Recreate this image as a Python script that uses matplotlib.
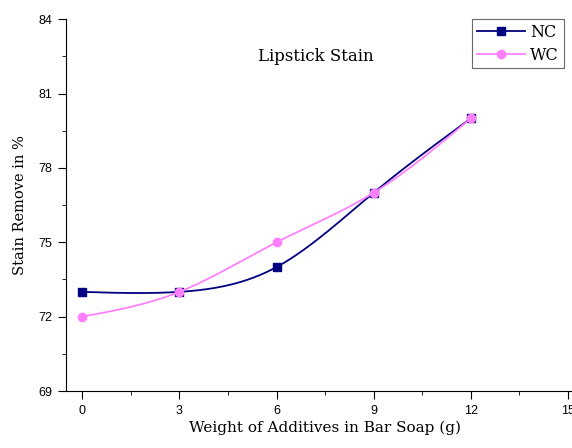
import numpy as np
import matplotlib
matplotlib.use("Agg")
from matplotlib import pyplot as plt
from matplotlib.ticker import MultipleLocator

# stain removal (%) vs additive weight (g)
weight = [0, 3, 6, 9, 12]
nc = [73, 73, 74, 77, 80]
wc = [72, 73, 75, 77, 80]


def spline(x, y, n=200):
    # natural cubic spline through the points, for a smooth line
    x = np.asarray(x, float)
    y = np.asarray(y, float)
    h = np.diff(x)
    m = len(x)
    A = np.zeros((m, m))
    b = np.zeros(m)
    A[0, 0] = A[-1, -1] = 1
    for i in range(1, m - 1):
        A[i, i - 1] = h[i - 1]
        A[i, i] = 2 * (h[i - 1] + h[i])
        A[i, i + 1] = h[i]
        b[i] = 6 * ((y[i + 1] - y[i]) / h[i] - (y[i] - y[i - 1]) / h[i - 1])
    M = np.linalg.solve(A, b)
    xx = np.linspace(x[0], x[-1], n)
    idx = np.clip(np.searchsorted(x, xx) - 1, 0, m - 2)
    x0, x1 = x[idx], x[idx + 1]
    hh = x1 - x0
    yy = (M[idx] * (x1 - xx) ** 3 / (6 * hh) + M[idx + 1] * (xx - x0) ** 3 / (6 * hh)
          + (y[idx] / hh - M[idx] * hh / 6) * (x1 - xx)
          + (y[idx + 1] / hh - M[idx + 1] * hh / 6) * (xx - x0))
    return xx, yy


navy = "#000080"
pink = "#FF80FF"
serif = "DejaVu Serif"

fig = plt.figure(figsize=(5.72, 4.48), dpi=100)
ax = fig.add_axes([0.1154, 0.1272, 0.906, 0.830])

for y, c, mk, lab in [(nc, navy, "s", "NC"), (wc, pink, "o", "WC")]:
    xs, ys = spline(weight, y)
    ax.plot(xs, ys, color=c, lw=1.3)
    ax.plot(weight, y, color=c, marker=mk, ms=6, lw=0)
    ax.plot([], [], color=c, marker=mk, ms=6, lw=1.3, label=lab)

ax.set_xlim(-0.5, 15.5)
ax.set_ylim(69, 84)
ax.xaxis.set_major_locator(MultipleLocator(3))
ax.xaxis.set_minor_locator(MultipleLocator(1.5))
ax.yaxis.set_major_locator(MultipleLocator(3))
ax.yaxis.set_minor_locator(MultipleLocator(1.5))
ax.spines["top"].set_visible(False)
ax.spines["right"].set_visible(False)
ax.tick_params(which="major", direction="out", length=6, labelsize=9, pad=4)
ax.tick_params(which="minor", direction="out", length=3)
for t in ax.get_xticklabels() + ax.get_yticklabels():
    t.set_family("Liberation Sans")

ax.set_xlabel("Weight of Additives in Bar Soap (g)", family=serif, fontsize=11, labelpad=3)
ax.set_ylabel("Stain Remove in %", family=serif, fontsize=10.5, labelpad=8)
ax.text(7.2, 82.5, "Lipstick Stain", family=serif, fontsize=12, ha="center", va="center")

leg = ax.legend(loc="upper right", bbox_to_anchor=(0.96, 1.0), frameon=True, fancybox=False,
                edgecolor="#444444", prop={"family": serif, "size": 11.5}, handlelength=3.0,
                borderpad=0.3, labelspacing=0.35, handletextpad=0.3, borderaxespad=0)
leg.get_frame().set_linewidth(0.8)

fig.savefig("out.png", dpi=100)
